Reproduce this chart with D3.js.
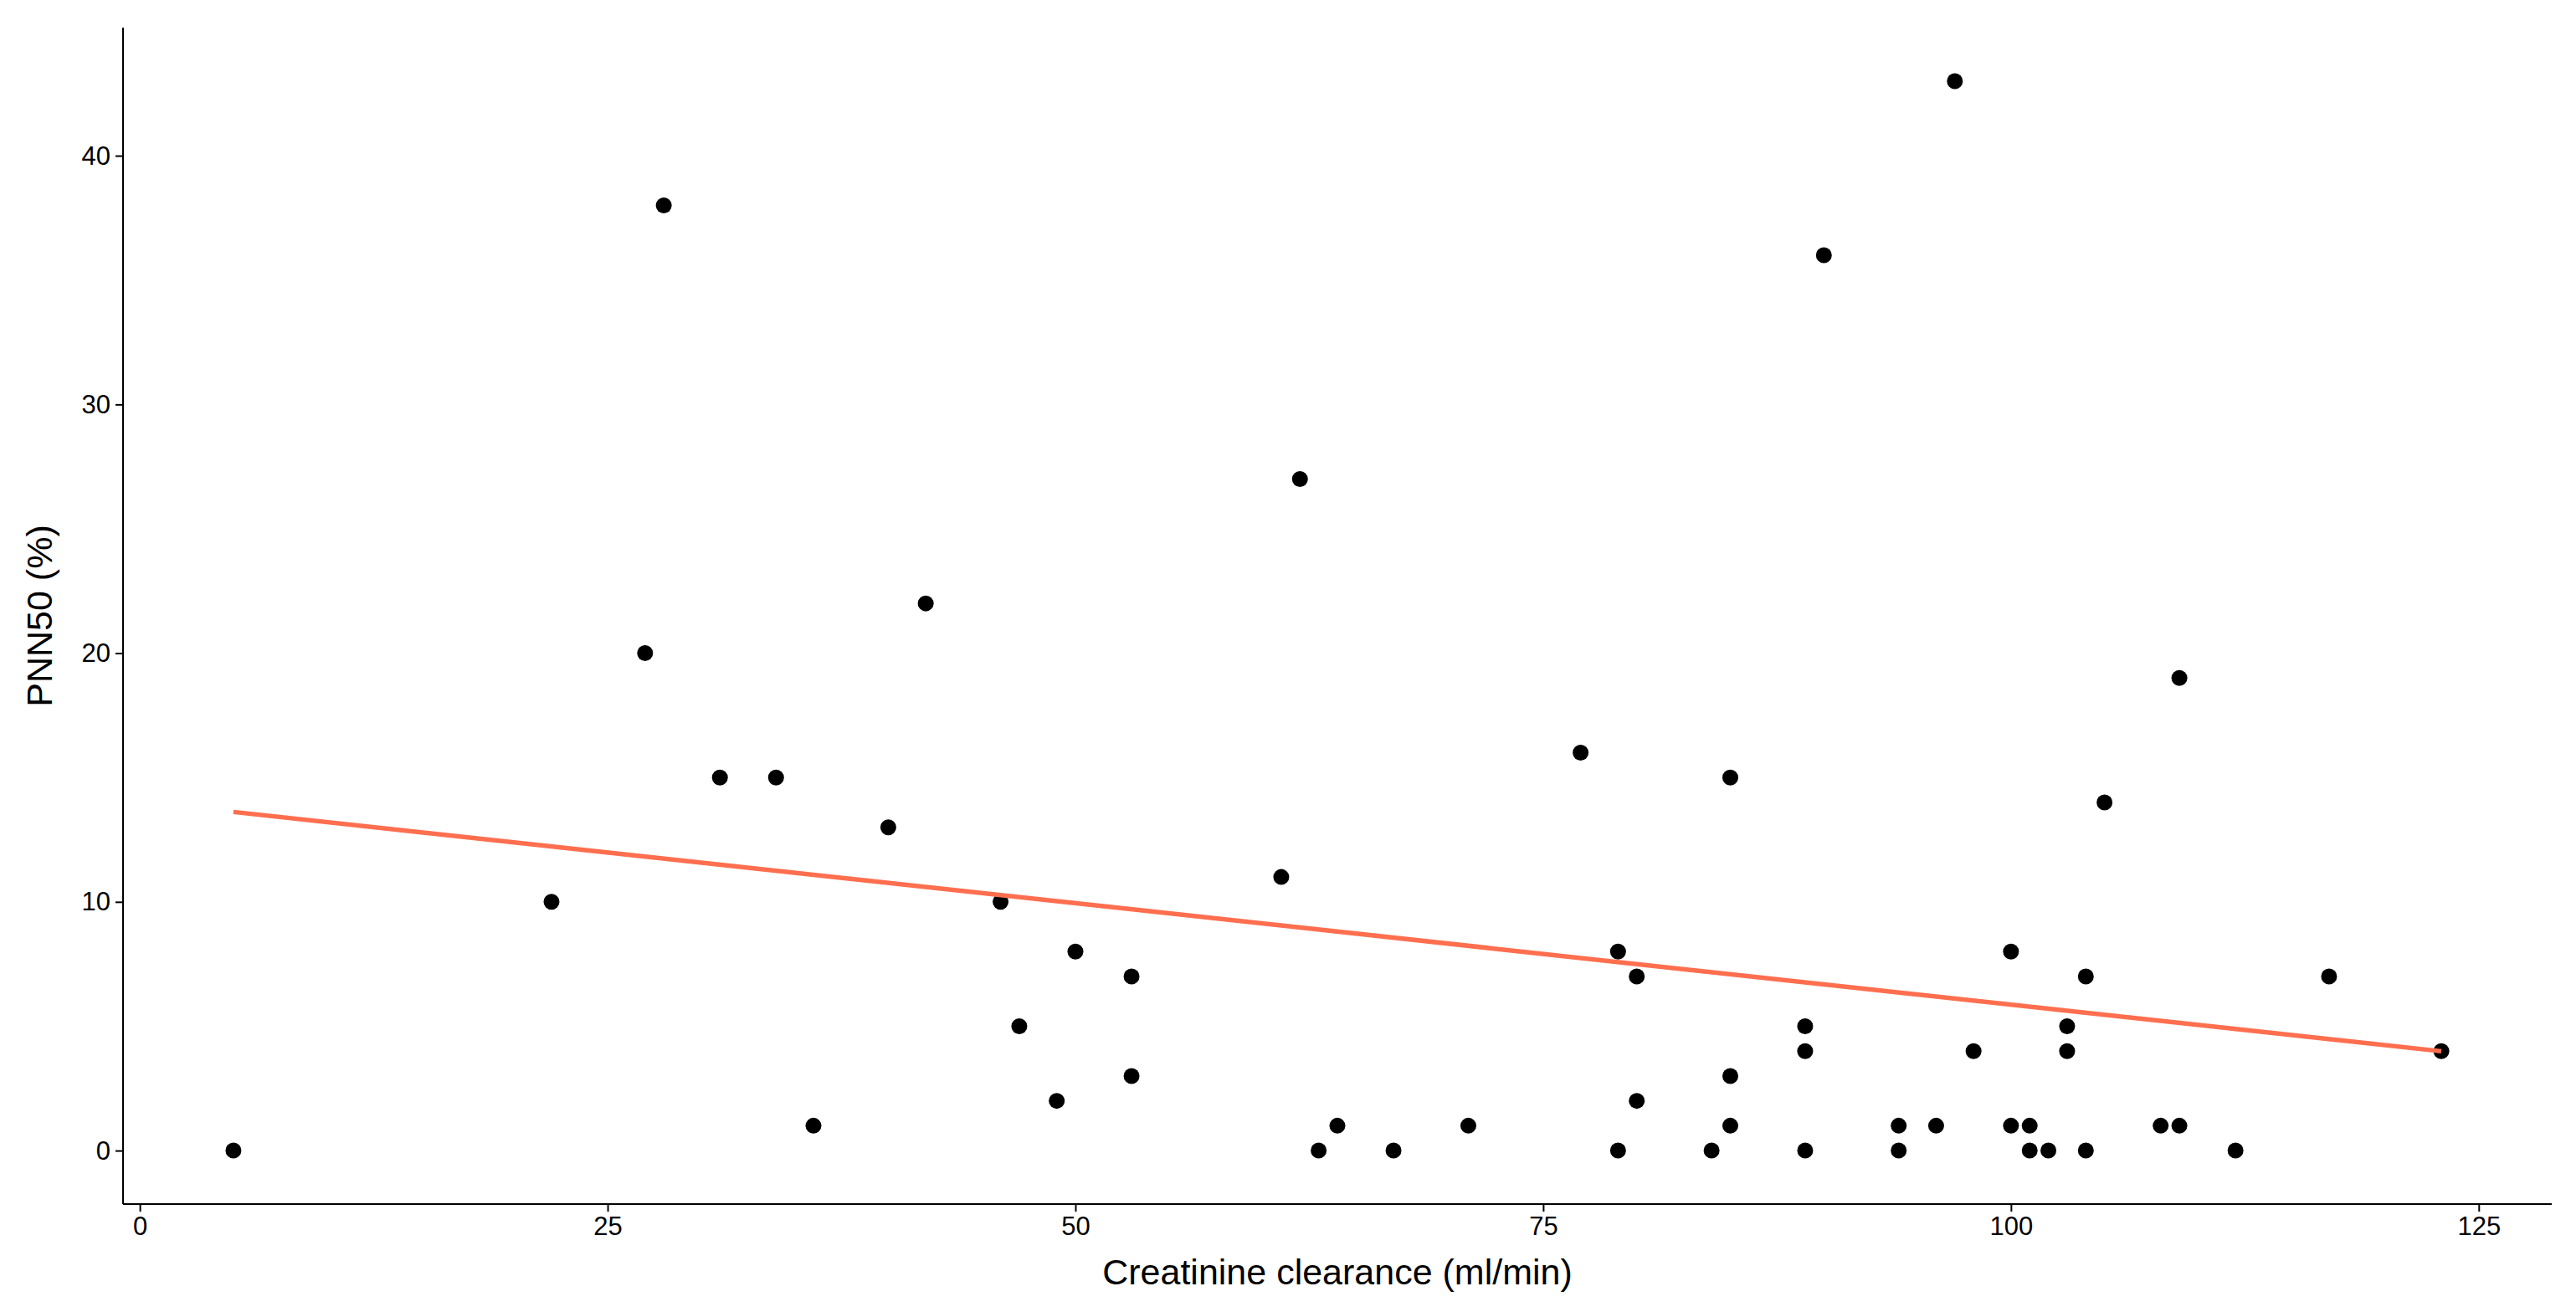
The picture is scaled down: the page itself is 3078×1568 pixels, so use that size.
<!DOCTYPE html>
<html><head><meta charset="utf-8">
<script src="https://cdn.jsdelivr.net/npm/d3@7"></script>
<style>body{margin:0;background:#fff}text{font-family:Arial,"Liberation Sans",sans-serif}</style>
</head><body><div id="chart"></div>
<script>
// data
var clearance = [5,22,27,28,31,34,36,40,42,46,47,49,50,53,53,61,62,63,64,67,71,77,79,79,80,80,84,85,85,85,89,89,89,90,94,94,96,97,98,100,100,101,101,102,103,103,104,104,105,108,109,109,112,117,123];
var pnn50 =     [0,10,20,38,15,15,1,13,22,10,5,2,8,7,3,11,27,0,1,0,1,16,8,0,7,2,0,15,3,1,5,4,0,36,1,0,1,43,4,8,1,1,0,0,5,4,7,0,14,1,19,1,0,7,4];
var xTicks = [0,25,50,75,100,125];
var yTicks = [0,10,20,30,40];

var W = 3078, H = 1568;
var m = {left:147, right:3049, top:33, bottom:1439};
var svg = d3.select('#chart').append('svg').attr('width', W).attr('height', H);

var x = d3.scaleLinear().domain([-0.9, 128.9]).range([m.left, m.right]);
var y = d3.scaleLinear().domain([-2.15, 45.15]).range([m.bottom, m.top]);

var xAxis = svg.append('g').attr('transform', 'translate(0,' + m.bottom + ')')
    .call(d3.axisBottom(x).tickValues(xTicks).tickSize(9).tickPadding(6));
var yAxis = svg.append('g').attr('transform', 'translate(' + m.left + ',0)')
    .call(d3.axisLeft(y).tickValues(yTicks).tickSize(9).tickPadding(6));
[xAxis, yAxis].forEach(function(a) {
    a.selectAll('path,line').attr('stroke', '#000').attr('stroke-width', 2);
    a.selectAll('text').attr('font-size', 31).attr('fill', '#000');
    a.select('.domain').attr('d', null);
});
svg.append('line').attr('x1', m.left).attr('x2', m.right).attr('y1', m.bottom).attr('y2', m.bottom).attr('stroke', '#000').attr('stroke-width', 2);
svg.append('line').attr('x1', m.left).attr('x2', m.left).attr('y1', m.top).attr('y2', m.bottom).attr('stroke', '#000').attr('stroke-width', 2);

svg.selectAll('circle').data(clearance).enter().append('circle')
    .attr('cx', function(d) { return x(d); })
    .attr('cy', function(d, i) { return y(pnn50[i]); })
    .attr('r', 9.5).attr('fill', '#000');

// linear fit
var mx = d3.mean(clearance), my = d3.mean(pnn50);
var sxy = d3.sum(clearance, function(d, i) { return (d - mx) * (pnn50[i] - my); });
var sxx = d3.sum(clearance, function(d) { return (d - mx) * (d - mx); });
var b = sxy / sxx, a0 = my - b * mx;
var x0 = d3.min(clearance), x1 = d3.max(clearance);
svg.append('line').attr('x1', x(x0)).attr('y1', y(a0 + b * x0)).attr('x2', x(x1)).attr('y2', y(a0 + b * x1))
    .attr('stroke', '#FF6F4F').attr('stroke-width', 5.5);

svg.append('text').attr('x', (m.left + m.right) / 2).attr('y', 1535).attr('text-anchor', 'middle')
    .attr('font-size', 43).text('Creatinine clearance (ml/min)');
svg.append('text').attr('transform', 'translate(62,' + ((m.top + m.bottom) / 2) + ') rotate(-90)')
    .attr('text-anchor', 'middle').attr('font-size', 43).text('PNN50 (%)');
</script></body></html>
